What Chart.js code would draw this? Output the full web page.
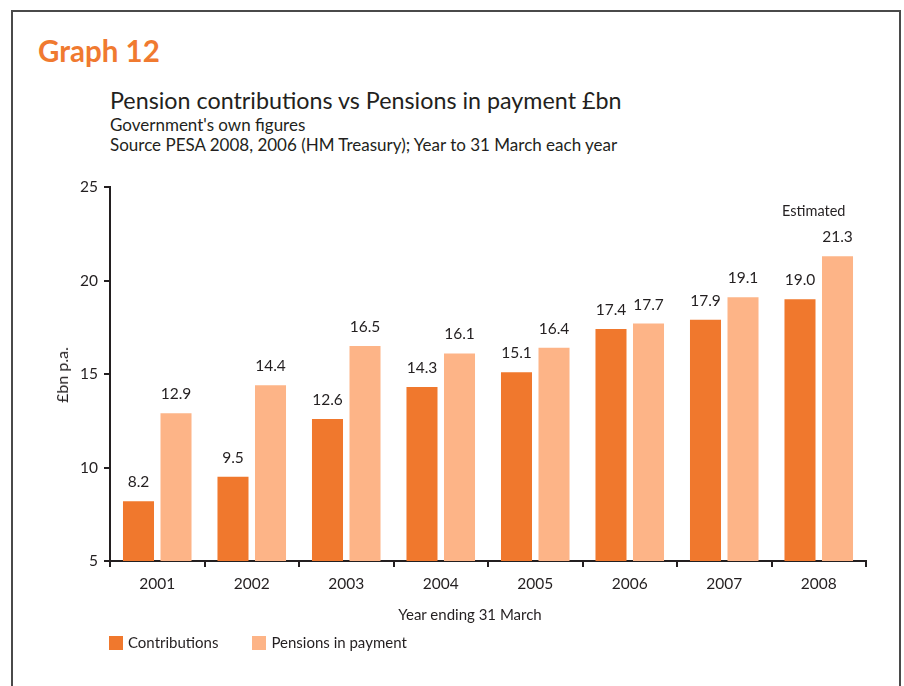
<!DOCTYPE html>
<html>
<head>
<meta charset="utf-8">
<script src="https://cdn.jsdelivr.net/npm/chart.js@4.4.1/dist/chart.umd.min.js"></script>
<style>
  html, body { margin: 0; padding: 0; background: #fff; }
  body { width: 904px; height: 686px; position: relative; overflow: hidden; font-family: Lato, "Open Sans", sans-serif; color: #231f20; }
  #frame { position: absolute; left: 11px; top: 10px; width: 890px; height: 700px; border: 2px solid #4a4a4a; box-sizing: border-box; }
  #chartWrap { position: absolute; left: 0; top: 0; width: 904px; height: 686px; }
  .txt { position: absolute; white-space: nowrap; line-height: 1; }
  #graphNo { left: 38px; top: 36px; font-size: 29.5px; font-weight: bold; color: #f07a30; }
  #title { left: 110px; top: 89px; font-size: 23.3px; }
  #sub1 { left: 110px; top: 116px; font-size: 17px; }
  #sub2 { left: 110px; top: 136px; font-size: 17px; }
  #yTitle { left: 62px; top: 375px; font-size: 16px; transform: translate(-50%, -50%) rotate(-90deg); }
  #xTitle { left: 470px; top: 607px; font-size: 15px; transform: translateX(-50%); }
  #legend { left: 109px; top: 635px; font-size: 15px; display: flex; align-items: center; }
  .sw { width: 14px; height: 14px; display: inline-block; margin-right: 5px; }
  .item { display: flex; align-items: center; margin-right: 34px; }
</style>
</head>
<body>
<div id="frame"></div>
<div class="txt" id="graphNo">Graph 12</div>
<div class="txt" id="title">Pension contributions vs Pensions in payment £bn</div>
<div class="txt" id="sub1">Government's own figures</div>
<div class="txt" id="sub2">Source PESA 2008, 2006 (HM Treasury); Year to 31 March each year</div>
<div id="chartWrap"><canvas id="c" width="904" height="686"></canvas></div>
<div class="txt" id="yTitle">£bn p.a.</div>
<div class="txt" id="xTitle">Year ending 31 March</div>
<div class="txt" id="legend">
  <span class="item"><span class="sw" style="background:#f0782d"></span>Contributions</span>
  <span class="item"><span class="sw" style="background:#fdb487"></span>Pensions in payment</span>
</div>
<script>
// Year ending 31 March
const years = ['2001', '2002', '2003', '2004', '2005', '2006', '2007', '2008'];
// £bn per annum
const contributions = [8.2, 9.5, 12.6, 14.3, 15.1, 17.4, 17.9, 19.0];
const pensionsInPayment = [12.9, 14.4, 16.5, 16.1, 16.4, 17.7, 19.1, 21.3];
const yTicks = [5, 10, 15, 20, 25];

const ink = '#231f20';
const family = 'Lato, "Open Sans", sans-serif';

// Value labels above every bar, plus the note over the final (estimated) year
const valueLabels = {
  id: 'valueLabels',
  afterDatasetsDraw(chart) {
    const ctx = chart.ctx;
    ctx.save();
    ctx.fillStyle = ink;
    ctx.font = '15.5px ' + family;
    ctx.textAlign = 'center';
    ctx.textBaseline = 'middle';
    chart.data.datasets.forEach((ds, di) => {
      chart.getDatasetMeta(di).data.forEach((bar, i) => {
        ctx.fillText(ds.data[i].toFixed(1), bar.x, bar.y - 19);
      });
    });
    const xs = chart.scales.x;
    const last = years.length - 1;
    ctx.font = '14.5px ' + family;
    ctx.fillText('Estimated', xs.getPixelForValue(last) - 5, chart.scales.y.getPixelForValue(23.7));
    ctx.restore();
  }
};

new Chart(document.getElementById('c'), {
  type: 'bar',
  data: {
    labels: years,
    datasets: [
      { label: 'Contributions', data: contributions, backgroundColor: '#f0782d' },
      { label: 'Pensions in payment', data: pensionsInPayment, backgroundColor: '#fdb487' }
    ]
  },
  options: {
    responsive: false,
    animation: false,
    devicePixelRatio: 1,
    categoryPercentage: 0.794,
    barPercentage: 0.827,
    layout: { padding: { left: 70, top: 187, right: 38, bottom: 65 } },
    plugins: { legend: { display: false }, tooltip: { enabled: false } },
    scales: {
      x: {
        afterFit(s) { s.height = 60; },
        border: { color: ink, width: 2 },
        grid: { offset: true, drawOnChartArea: false, drawTicks: true, tickLength: 6, color: ink, lineWidth: 2 },
        ticks: { color: ink, font: { family: family, size: 15.5 }, padding: 8 }
      },
      y: {
        min: 5, max: 25,
        afterFit(s) { s.width = 40; },
        afterBuildTicks(s) { s.ticks = yTicks.map(v => ({ value: v })); },
        border: { color: ink, width: 2 },
        grid: { drawOnChartArea: false, drawTicks: true, tickLength: 6, color: ink, lineWidth: 2 },
        ticks: { color: ink, font: { family: family, size: 15.5 }, padding: 6 }
      }
    }
  },
  plugins: [valueLabels]
});
</script>
</body>
</html>
